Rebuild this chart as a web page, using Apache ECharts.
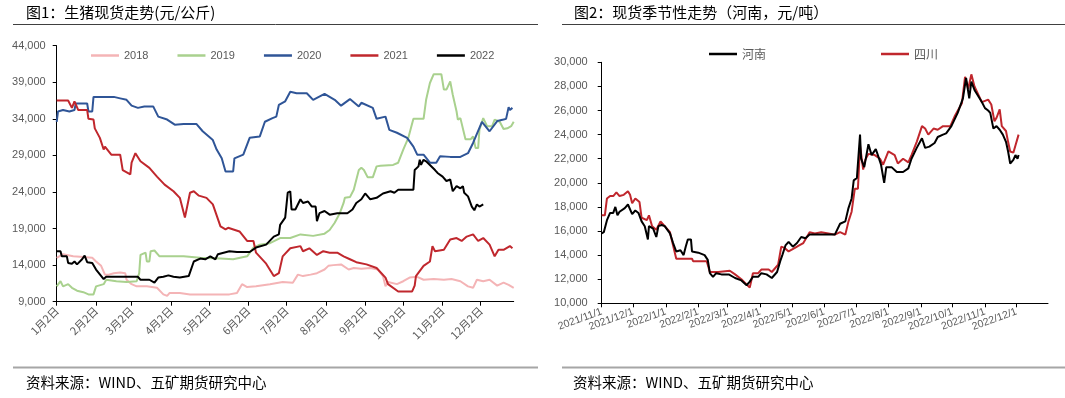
<!DOCTYPE html>
<html><head><meta charset="utf-8">
<script src="https://cdn.jsdelivr.net/npm/echarts@6/dist/echarts.min.js"></script>
<style>html,body{margin:0;padding:0;background:#fff}#c{width:1065px;height:398px}</style>
</head><body><div id="c"></div>
<script>
// ---------- Chart 1: 生猪现货走势 (元/公斤) ----------
const leftTitle = '图1：生猪现货走势(元/公斤)';
const rightTitle = '图2：现货季节性走势（河南，元/吨）';
const sourceText = '资料来源：WIND、五矿期货研究中心';
const leftSeriesNames = ['2018', '2019', '2020', '2021', '2022'];
const leftYAxis = { min: 9000, max: 44000, interval: 5000 };

const s2018 = [['1/2',15000],['1/7',15500],['1/15',15200],['1/23',15100],['1/30',15000],['2/2',14500],['2/6',13900],['2/9',12700],['2/12',12700],['2/16',12900],['2/21',13000],['2/25',12900],['2/26',12000],['3/2',11400],['3/6',11100],['3/14',11100],['3/22',10900],['3/27',10000],['3/30',9800],['4/1',10200],['4/9',10200],['4/17',10000],['5/18',10000],['5/24',10200],['5/28',11400],['6/1',11000],['6/8',11100],['6/19',11400],['6/29',11700],['7/7',11600],['7/11',12700],['7/15',12500],['7/21',12700],['7/26',12900],['8/1',13400],['8/4',13900],['8/8',14000],['8/14',14100],['8/20',13400],['8/24',13600],['8/30',13500],['9/6',13600],['9/12',13400],['9/16',12500],['9/18',11100],['9/20',11700],['9/27',11400],['10/2',11800],['10/7',12300],['10/13',12400],['10/18',12000],['10/26',12100],['11/3',12000],['11/9',12100],['11/16',11800],['11/22',11100],['11/26',10900],['11/29',12000],['12/4',11800],['12/9',12000],['12/15',11200],['12/20',11600],['12/24',11300],['12/28',10900]];
const s2019 = [['1/2',11100],['1/5',11800],['1/7',11100],['1/11',11400],['1/14',10900],['1/18',10500],['1/23',10300],['1/27',10000],['1/31',10000],['2/2',11100],['2/8',11400],['2/10',12000],['2/18',11800],['2/26',11700],['3/6',11800],['3/8',12900],['3/9',15400],['3/13',15700],['3/14',14500],['3/16',14500],['3/17',15900],['3/20',16000],['3/24',15200],['4/12',15200],['4/25',15000],['5/11',14900],['5/21',14800],['6/1',15200],['6/6',16400],['6/11',16800],['6/19',17000],['6/27',17700],['7/5',17700],['7/13',18200],['7/23',18000],['8/1',18300],['8/5',18800],['8/9',19800],['8/13',21100],['8/16',22500],['8/17',23200],['8/21',23300],['8/24',24300],['8/28',27000],['8/30',27300],['9/1',27000],['9/4',26000],['9/8',26000],['9/11',27500],['9/14',27600],['9/24',27700],['9/28',28000],['10/2',29800],['10/6',31400],['10/10',34000],['10/18',34000],['10/20',36600],['10/23',38900],['10/26',40100],['11/1',40100],['11/3',38000],['11/5',38000],['11/8',39100],['11/10',37300],['11/13',35000],['11/14',33900],['11/16',34100],['11/20',31200],['11/24',31200],['11/26',31600],['11/28',30000],['11/30',30000],['12/1',32500],['12/4',34100],['12/7',33000],['12/11',33000],['12/13',33900],['12/17',33600],['12/20',32600],['12/23',32700],['12/26',33000],['12/28',33600]];
const s2020 = [['1/2',33600],['1/3',35000],['1/7',35200],['1/12',35000],['1/16',35200],['1/17',36100],['1/26',36100],['1/27',35000],['1/30',35000],['1/31',37000],['2/16',37000],['2/21',36800],['2/26',36600],['3/2',35800],['3/7',35500],['3/12',35700],['3/19',35700],['3/23',34300],['3/30',33900],['4/5',33200],['4/12',33300],['4/22',33300],['4/27',32300],['5/5',31100],['5/8',29800],['5/12',28600],['5/15',26800],['5/21',26800],['5/22',28600],['5/29',29100],['6/3',31400],['6/11',31600],['6/15',33600],['6/21',34100],['6/24',34300],['6/26',35900],['7/1',36400],['7/5',37700],['7/10',37500],['7/18',37500],['7/23',36600],['8/1',37400],['8/9',36600],['8/14',35800],['8/21',36700],['8/28',35700],['8/30',36200],['9/8',35500],['9/11',34000],['9/18',34300],['9/21',32500],['9/27',32100],['10/5',31400],['10/10',30200],['10/13',29100],['10/18',29100],['10/23',28000],['10/28',28000],['10/31',28900],['11/8',28800],['11/16',28800],['11/22',29300],['11/26',30700],['12/3',33600],['12/9',32300],['12/15',33700],['12/20',33900],['12/22',34000],['12/24',35600],['12/25',35200],['12/27',35500]];
const s2021 = [['1/2',36500],['1/11',36500],['1/14',35500],['1/16',36400],['1/19',35200],['1/26',35200],['1/27',34000],['1/31',33900],['2/1',32700],['2/5',31400],['2/8',29800],['2/9',30200],['2/14',29100],['2/21',29100],['2/23',27000],['3/1',26400],['3/2',28000],['3/5',29300],['3/9',28200],['3/16',27300],['3/22',26100],['3/28',25000],['4/4',24100],['4/9',23200],['4/13',20500],['4/17',23900],['4/20',24100],['4/24',23500],['4/30',23200],['5/5',22300],['5/11',19300],['5/15',18900],['5/17',19100],['5/26',18600],['6/1',17300],['6/6',17300],['6/8',15700],['6/16',14200],['6/22',12500],['6/26',12900],['6/29',15200],['7/5',16300],['7/13',16600],['7/15',15900],['7/20',16300],['7/26',15400],['7/31',15900],['8/5',15700],['8/11',15700],['8/16',15200],['8/21',14800],['8/26',14400],['9/3',14100],['9/11',13600],['9/18',12300],['9/20',11400],['9/28',10400],['10/9',10400],['10/11',11200],['10/12',12500],['10/18',13900],['10/23',14500],['10/25',16600],['10/27',15900],['11/3',16100],['11/8',17500],['11/13',17700],['11/17',17300],['11/21',17900],['11/26',18200],['11/30',17300],['12/4',17700],['12/9',16800],['12/13',15200],['12/16',16100],['12/20',16100],['12/25',16600],['12/27',16300]];
const s2022 = [['1/2',15900],['1/5',15900],['1/6',15200],['1/10',15200],['1/11',14300],['1/14',14200],['1/16',14500],['1/18',14100],['1/22',14800],['1/24',15300],['1/26',14400],['1/30',14300],['2/2',13400],['2/8',12100],['2/10',12400],['3/7',12400],['3/9',12000],['3/16',12000],['3/20',11600],['3/23',12300],['3/27',12400],['3/31',12600],['4/4',12400],['4/9',12300],['4/16',12500],['4/20',14500],['4/25',14900],['4/29',14800],['5/3',15200],['5/7',14800],['5/9',15500],['5/18',15900],['5/24',15800],['6/3',15800],['6/8',16400],['6/16',16800],['6/22',17900],['6/26',18200],['6/27',19500],['7/1',20500],['7/2',20500],['7/3',23900],['7/5',24100],['7/6',21600],['7/9',21600],['7/13',23000],['7/15',22500],['7/19',22700],['7/22',22000],['7/25',22000],['7/26',20000],['7/28',21100],['8/1',21400],['8/5',20900],['8/11',21100],['8/19',21100],['8/23',21600],['8/26',22500],['8/30',23000],['9/2',23800],['9/6',23000],['9/11',23200],['9/16',23800],['9/22',24100],['9/25',23900],['9/28',24300],['10/10',24300],['10/11',27000],['10/14',27500],['10/15',28400],['10/16',27700],['10/18',28400],['10/20',28200],['10/23',27700],['10/27',27000],['10/29',26600],['11/2',26100],['11/5',25500],['11/8',25700],['11/10',24100],['11/13',24800],['11/16',24500],['11/18',24800],['11/19',23900],['11/22',23400],['11/25',22000],['11/27',21500],['11/29',22300],['12/1',22000],['12/4',22300]];
const leftColors = ['#F4B4B6', '#A9D18E', '#2F5597', '#C0272D', '#000000'];

// ---------- Chart 2: 现货季节性走势 (河南, 元/吨) ----------
const rightSeriesNames = ['河南', '四川'];
const rightYAxis = { min: 10000, max: 30000, interval: 2000 };
const henan = [['2021/11/1',15800],['2021/11/3',15900],['2021/11/6',16900],['2021/11/9',17500],['2021/11/12',17500],['2021/11/14',18000],['2021/11/16',17300],['2021/11/18',17600],['2021/11/23',17900],['2021/11/26',18200],['2021/11/30',17400],['2021/12/3',17700],['2021/12/6',17500],['2021/12/9',16800],['2021/12/12',16400],['2021/12/15',15300],['2021/12/16',16400],['2021/12/20',16200],['2021/12/23',15500],['2021/12/25',16400],['2021/12/28',16500],['2021/12/31',16400],['2022/1/5',15800],['2022/1/8',15000],['2022/1/11',14300],['2022/1/15',14400],['2022/1/18',14000],['2022/1/20',14700],['2022/1/22',15300],['2022/1/25',15300],['2022/1/26',14300],['2022/2/1',14200],['2022/2/7',14000],['2022/2/10',13600],['2022/2/12',12500],['2022/2/15',12200],['2022/2/18',12500],['2022/2/23',12400],['2022/3/2',12400],['2022/3/8',12100],['2022/3/14',11900],['2022/3/19',11500],['2022/3/22',11800],['2022/3/25',12200],['2022/3/30',12200],['2022/4/2',12500],['2022/4/7',12400],['2022/4/12',12100],['2022/4/17',12600],['2022/4/20',13500],['2022/4/22',14000],['2022/4/25',14800],['2022/4/28',15100],['2022/5/2',14700],['2022/5/6',15000],['2022/5/10',15500],['2022/5/14',15400],['2022/5/18',15700],['2022/6/11',15700],['2022/6/16',16600],['2022/6/21',16800],['2022/6/24',17900],['2022/6/27',18700],['2022/6/29',20200],['2022/7/2',20400],['2022/7/5',24000],['2022/7/6',22000],['2022/7/9',21300],['2022/7/13',23200],['2022/7/16',22300],['2022/7/20',22800],['2022/7/22',22300],['2022/7/25',21500],['2022/7/28',20000],['2022/7/30',21300],['2022/8/4',21300],['2022/8/9',20900],['2022/8/15',20900],['2022/8/20',21200],['2022/8/23',22000],['2022/8/28',22900],['2022/9/2',23700],['2022/9/5',22900],['2022/9/9',23000],['2022/9/14',23300],['2022/9/17',23800],['2022/9/22',24000],['2022/9/25',24100],['2022/9/30',24700],['2022/10/6',25800],['2022/10/11',27000],['2022/10/14',28700],['2022/10/17',27000],['2022/10/19',28400],['2022/10/22',27700],['2022/10/29',26700],['2022/11/1',26200],['2022/11/4',26000],['2022/11/6',25800],['2022/11/9',24500],['2022/11/12',24700],['2022/11/15',24400],['2022/11/18',24000],['2022/11/21',23400],['2022/11/23',22600],['2022/11/25',21600],['2022/11/28',21900],['2022/11/30',22300],['2022/12/2',22000],['2022/12/3',22300]];
const sichuan = [['2021/11/1',17300],['2021/11/4',17300],['2021/11/6',18700],['2021/11/9',18900],['2021/11/12',18900],['2021/11/15',19200],['2021/11/18',18900],['2021/11/22',19000],['2021/11/26',19300],['2021/11/28',19000],['2021/11/30',18300],['2021/12/3',18700],['2021/12/7',18400],['2021/12/9',17100],['2021/12/14',16900],['2021/12/16',17300],['2021/12/19',16400],['2021/12/23',16100],['2021/12/27',16800],['2021/12/31',16400],['2022/1/5',15900],['2022/1/8',14800],['2022/1/11',13700],['2022/1/26',13700],['2022/1/27',13500],['2022/2/9',13500],['2022/2/12',12600],['2022/2/20',12600],['2022/3/3',12700],['2022/3/8',12400],['2022/3/14',12000],['2022/3/22',11300],['2022/3/25',12500],['2022/3/30',12500],['2022/4/2',12800],['2022/4/9',12800],['2022/4/12',12600],['2022/4/18',13200],['2022/4/21',14700],['2022/4/24',14600],['2022/4/28',14300],['2022/5/4',14600],['2022/5/8',14800],['2022/5/12',15000],['2022/5/18',15900],['2022/5/23',15800],['2022/5/29',15900],['2022/6/5',15800],['2022/6/11',15700],['2022/6/16',15900],['2022/6/21',15700],['2022/6/24',16800],['2022/6/27',17600],['2022/6/30',19500],['2022/7/3',19500],['2022/7/5',23100],['2022/7/8',21100],['2022/7/10',21900],['2022/7/13',22400],['2022/7/19',22300],['2022/7/24',22000],['2022/7/27',21500],['2022/8/1',22600],['2022/8/7',22300],['2022/8/10',21600],['2022/8/15',22000],['2022/8/20',21700],['2022/8/23',22300],['2022/8/28',23400],['2022/9/2',24700],['2022/9/5',24500],['2022/9/8',24000],['2022/9/13',24500],['2022/9/17',24400],['2022/9/22',24700],['2022/9/29',24700],['2022/10/3',25500],['2022/10/10',26600],['2022/10/13',28800],['2022/10/16',27800],['2022/10/19',29000],['2022/10/22',28000],['2022/10/29',26700],['2022/11/4',26900],['2022/11/7',26500],['2022/11/10',25100],['2022/11/12',25400],['2022/11/15',26100],['2022/11/17',24700],['2022/11/21',24300],['2022/11/23',23400],['2022/11/25',22600],['2022/11/28',22500],['2022/11/30',23100],['2022/12/3',24000]];
const rightColors = ['#000000', '#C0272D'];

// ---------- daily date axes (category labels by day index) ----------
function buildDays(y0, m0, d0, y1, m1, d1, fmt) {
  const out = [];
  const t = new Date(Date.UTC(y0, m0 - 1, d0));
  const end = Date.UTC(y1, m1 - 1, d1);
  while (t.getTime() <= end) {
    out.push(fmt(t.getUTCFullYear(), t.getUTCMonth() + 1, t.getUTCDate()));
    t.setUTCDate(t.getUTCDate() + 1);
  }
  return out;
}
const leftCategories = buildDays(2021, 1, 2, 2021, 12, 28, (y, m, d) => m + '月' + d + '日');
const rightCategories = buildDays(2021, 11, 1, 2022, 12, 31, (y, m, d) => y + '/' + m + '/' + d);
const leftTickIdx = leftCategories.map((c, i) => /月2日$/.test(c) ? i : -1).filter(i => i >= 0);
const rightTickIdx = rightCategories.map((c, i) => c.split('/')[2] === '1' ? i : -1).filter(i => i >= 0);

const toLeft = arr => arr.map(([md, v]) => { const [m, d] = md.split('/'); return [leftCategories.indexOf(m + '月' + d + '日'), v]; });
const toRight = arr => arr.map(([k, v]) => [rightCategories.indexOf(k), v]);

const FONT = 'Arial, "Liberation Sans", "Noto Sans CJK SC", sans-serif';
const CJK = '"Noto Sans CJK SC", sans-serif';
const fmtNum = v => v.toLocaleString('en-US');

const chart = echarts.init(document.getElementById('c'), null, { renderer: 'canvas' });
const leftData = [s2018, s2019, s2020, s2021, s2022];
const rightData = [henan, sichuan];

chart.setOption({
  animation: false,
  backgroundColor: '#ffffff',
  grid: [
    { left: 56.7, right: 551.3, top: 45.7, bottom: 96.3, containLabel: false },
    { left: 601.7, right: 17, top: 62.3, bottom: 94.7, containLabel: false }
  ],
  legend: [
    { data: leftSeriesNames, left: 91, top: 50, icon: 'rect', itemWidth: 28, itemHeight: 2.5, itemGap: 29, padding: 0,
      textStyle: { fontSize: 11, color: '#595959', fontFamily: FONT } },
    { data: rightSeriesNames, left: 709, top: 48, icon: 'rect', itemWidth: 28, itemHeight: 2.5, itemGap: 115, padding: 0,
      textStyle: { fontSize: 12, color: '#595959', fontFamily: CJK } }
  ],
  xAxis: [
    { gridIndex: 0, type: 'value', min: 0, max: leftCategories.length - 1,
      splitLine: { show: false },
      axisLine: { lineStyle: { color: '#000', width: 1 } },
      axisTick: { length: 4, lineStyle: { color: '#000' }, customValues: leftTickIdx },
      axisLabel: { customValues: leftTickIdx, formatter: v => leftCategories[v], rotate: 45, fontSize: 11, color: '#595959', fontFamily: CJK, margin: 7, hideOverlap: false, showMinLabel: true, showMaxLabel: true } },
    { gridIndex: 1, type: 'value', min: 0, max: rightCategories.length - 1,
      splitLine: { show: false },
      axisLine: { lineStyle: { color: '#000', width: 1 } },
      axisTick: { length: 4, lineStyle: { color: '#000' }, customValues: rightTickIdx },
      axisLabel: { customValues: rightTickIdx, formatter: v => rightCategories[v], rotate: 20, fontSize: 10.5, color: '#595959', fontFamily: FONT, margin: 8, hideOverlap: false, showMinLabel: true, showMaxLabel: true } }
  ],
  yAxis: [
    { gridIndex: 0, type: 'value', min: leftYAxis.min, max: leftYAxis.max, interval: leftYAxis.interval,
      axisLine: { show: true, lineStyle: { color: '#000', width: 1 } },
      axisTick: { show: true, length: 4, lineStyle: { color: '#000' } },
      splitLine: { show: false },
      axisLabel: { formatter: fmtNum, fontSize: 11, color: '#595959', fontFamily: FONT, margin: 11 } },
    { gridIndex: 1, type: 'value', min: rightYAxis.min, max: rightYAxis.max, interval: rightYAxis.interval,
      axisLine: { show: true, lineStyle: { color: '#000', width: 1 } },
      axisTick: { show: true, length: 4, lineStyle: { color: '#000' } },
      splitLine: { show: false },
      axisLabel: { formatter: fmtNum, fontSize: 11, color: '#595959', fontFamily: FONT, margin: 14 } }
  ],
  series: [
    ...leftSeriesNames.map((n, i) => ({
      name: n, type: 'line', xAxisIndex: 0, yAxisIndex: 0, data: toLeft(leftData[i]),
      symbol: 'none', showSymbol: false, color: leftColors[i],
      lineStyle: { width: 2, color: leftColors[i] }, z: 2 + i
    })),
    ...rightSeriesNames.map((n, i) => ({
      name: n, type: 'line', xAxisIndex: 1, yAxisIndex: 1, data: toRight(rightData[i]),
      symbol: 'none', showSymbol: false, color: rightColors[i],
      lineStyle: { width: 2, color: rightColors[i] }, z: 3 - i
    }))
  ],
  graphic: [
    { type: 'line', shape: { x1: 13, y1: 24.5, x2: 538, y2: 24.5 }, style: { stroke: '#404040', lineWidth: 1 } },
    { type: 'line', shape: { x1: 562, y1: 24.5, x2: 1065, y2: 24.5 }, style: { stroke: '#404040', lineWidth: 1 } },
    { type: 'line', shape: { x1: 13, y1: 367.5, x2: 538, y2: 367.5 }, style: { stroke: '#A6A6A6', lineWidth: 2 } },
    { type: 'line', shape: { x1: 562, y1: 367.5, x2: 1065, y2: 367.5 }, style: { stroke: '#A6A6A6', lineWidth: 2 } },
    { type: 'text', left: 26, top: 5, style: { text: leftTitle, fontSize: 15, fill: '#000', fontFamily: CJK } },
    { type: 'text', left: 574, top: 5, style: { text: rightTitle, fontSize: 15, fill: '#000', fontFamily: CJK } },
    { type: 'text', left: 26, top: 375, style: { text: sourceText, fontSize: 14.5, fill: '#000', fontFamily: CJK } },
    { type: 'text', left: 573, top: 375, style: { text: sourceText, fontSize: 14.5, fill: '#000', fontFamily: CJK } }
  ]
});
</script></body></html>
